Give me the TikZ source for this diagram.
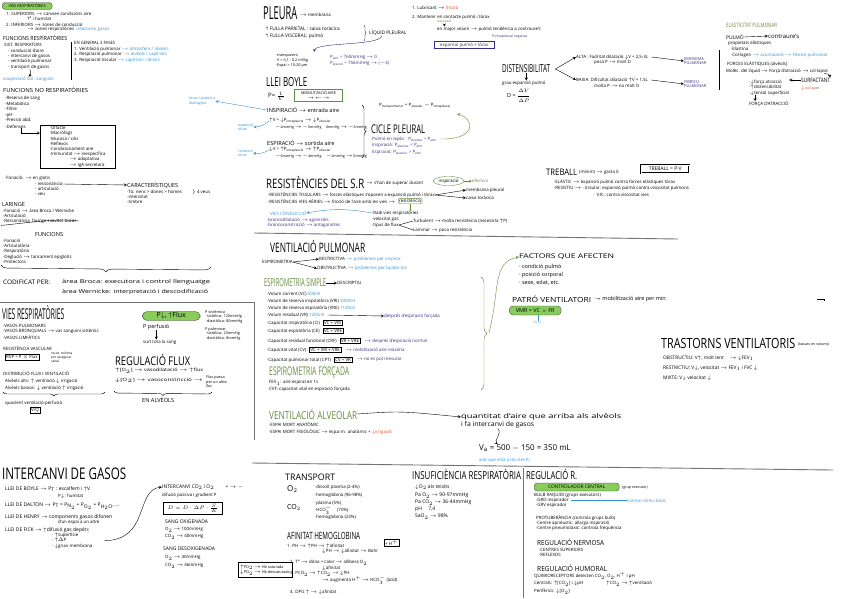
\documentclass[tikz,border=0pt]{standalone}
\usepackage{amsmath}
\usepackage{amssymb}
\usepackage{fontspec}
\setmainfont{Open Sans}
\usetikzlibrary{positioning,arrows,shapes.geometric,decorations.pathreplacing,calc}
\definecolor{inkgreen}{RGB}{104,140,62}
\definecolor{pillgreen}{RGB}{136,204,92}
\definecolor{inkblue}{RGB}{52,146,214}
\definecolor{inkpurple}{RGB}{58,42,128}
\definecolor{inkred}{RGB}{228,64,44}
\newcommand{\fs}[1]{\fontsize{#1}{#1}\selectfont}
\newcommand{\hw}[2]{\resizebox{#1pt}{\height}{#2}}
\newcommand{\tto}{\ensuremath{\rightarrow}}
\newcommand{\upa}{\ensuremath{\uparrow}}
\newcommand{\dna}{\ensuremath{\downarrow}}

\begin{document}
\begin{tikzpicture}[x=1pt, y=-1pt]
\tikzstyle{txt} = [anchor=west, inner sep=0pt, align=left, font=\fontsize{4.4}{5.2}\selectfont]
\tikzstyle{mid} = [txt, font=\fs{5.6}]
\tikzstyle{ttl} = [anchor=west, inner sep=0pt, font=\fs{15}]
\tikzstyle{pill} = [anchor=west, rounded corners=3pt, fill=pillgreen, draw=black!70, inner sep=1.2pt, font=\fs{5}]
\tikzstyle{sbox} = [anchor=west, draw=black, inner sep=1pt, align=left, font=\fontsize{4.4}{5.2}\selectfont]
\tikzstyle{arrow} = [->, >=stealth, thin]
\tikzstyle{rule} = [black!55, line width=0.9pt]
\tikzstyle{brc} = [decorate, decoration={brace, amplitude=4pt}, thin]

\useasboundingbox (0,0) rectangle (848,598);
\fill[white] (0,0) rectangle (848,598);

% separadors
\coordinate (h1a) at (0,302); \coordinate (h1b) at (254,302); \coordinate (v1b) at (254,440);
\coordinate (h2a) at (254,233); \coordinate (h2b) at (678,239);
\coordinate (h3a) at (252,463); \coordinate (h3b) at (833,470);
\coordinate (v3a) at (523,468); \coordinate (v3b) at (523,598);
\draw[rule] (h1a) -- (h1b) -- (v1b);
\draw[rule] (h2a) -- (h2b);
\draw[rule] (h3a) -- (h3b);
\draw[rule] (v3a) -- (v3b);

% vies respiratories
\node (vrp) [pill, font=\fs{4}, minimum width=50pt, minimum height=7pt] at (2,6) {VIES RESPIRATÒRIES};
\node (sup) [txt] at (6,13.5) {1. SUPERIORS \tto{} canvien condicions aire};
\node (supb) [txt] at (27,19) {T$^{\text{a}}$ i humitat};
\node (inf) [txt] at (6,24.5) {2. INFERIORS \tto{} zones de conducció};
\node (infb) [txt] at (27,29.5) {\tto{} zones respiratòries \ \textcolor{inkblue}{intercanvi gasos}};

\node (funcr) [mid] at (3,38) {\hw{64}{FUNCIONS RESPIRATÒRIES}};
\node (sist) [txt] at (4,45) {SIST. RESPIRATORI:};
\node (llista1) [txt, anchor=north west] at (8,49) {- conducció d'aire\\- intercanvi de gasos\\- ventilació pulmonar\\- transport de gasos};
\node (coop) [txt, text=inkblue] at (3,79) {cooperació sist. sanguini};
\draw[arrow] (llista1.south) to[bend left=40] (coop.north);
\draw (71,42) -- (71,80);
\node (gen) [txt] at (74,43) {\hw{41}{EN GENERAL 3 FASES}};
\node (f1) [txt] at (74,49) {1. Ventilació pulmonar \textcolor{inkblue}{\tto{} atmosfera / alvèols}};
\node (f2) [txt] at (74,54.5) {2. Respiració pulmonar \textcolor{inkblue}{\tto{} alvèols / capil·lars}};
\node (f3) [txt] at (74,60) {3. Respiració tissular \textcolor{inkblue}{\tto{} capil·lars / teixits}};

\node (funcnr) [mid] at (3,90) {\hw{85}{FUNCIONS NO RESPIRATÒRIES}};
\node (llista2) [txt, anchor=north west, font=\fontsize{4.4}{5.5}\selectfont] at (5,96) {-Reserva de sang\\-Metabòlica\\-Filtre\\-pH\\-Pressió abd.};
\node (defn) [txt] at (5,126.5) {-Defenses};
\node (def) [sbox, anchor=north west, minimum width=75pt, minimum height=43pt, inner xsep=6pt] at (40,125) {·Olfacte\\·Macròfags\\·Mucosa / cilis\\·Reflexos\\·Condicionament aire\\·Immunitat \tto{} inespecífica\\\hspace{20pt}\tto{} adaptativa\\\hspace{20pt}\tto{} IgA secretora};
\draw[arrow] ([xshift=6pt]defn.south) |- ([yshift=-8pt]def.north west);
\node (diaf) [txt, text=inkblue, anchor=north west, font=\fontsize{3.6}{4.3}\selectfont] at (189,97) {tòrax i alvèols a\\diafragma};

% fonacio i laringe
\node (fon) [txt] at (5,178) {·Fonació: \tto{} en glotis};
\node (fon1) [txt] at (35,184) {- ressonància};
\node (fon2) [txt] at (35,189) {- articulació};
\node (fon3) [txt] at (35,194) {- veu};
\node (car) [mid] at (127,185) {CARACTERÍSTIQUES};
\draw[arrow] (fon1.east) -- (car.west);
\node (car1) [txt] at (127,192) {·To: nens > dones > homes};
\node (veus) [txt] at (192,192) {$\}$ 4 veus};
\node (car2) [txt] at (127,197) {-intensitat};
\node (car3) [txt] at (127,202) {-timbre};

\node (lar) [mid] at (2,204.5) {LARINGE};
\node (lar1) [txt] at (3,210.5) {·Fonació \tto{} àrea Broca / Wernicke};
\node (lar2) [txt] at (3,215.5) {·Articulació};
\node (lar3) [txt] at (3,221) {·Ressonància \ faringe i cavitat bucal};
\draw ([xshift=-2pt, yshift=-2pt]lar3.south west) .. controls +(30,-3) and +(-20,-3) .. ([xshift=3pt]lar3.east);
\node (funcs) [mid] at (35,234) {FUNCIONS};
\node (llista3) [txt, anchor=north west] at (3,239) {·Fonació\\·Articulatòria\\·Respiratòria\\·Deglució \tto{} tancament epiglotis\\·Protectora};
\draw[brc, decoration={brace, mirror, amplitude=6pt}] (1,265) -- (211,267);
\node (cod) [txt, font=\fs{6.2}] at (3,282) {\hw{47}{CODIFICAT PER:}};
\node (cod1) [txt, font=\fs{5.4}] at (62,282) {\hw{148}{àrea Broca: executora i control llenguatge}};
\node (cod2) [txt, font=\fs{5.4}] at (62,292) {\hw{146}{àrea Wernicke: interpretació i descodificació}};

% vies respiratories: circulacio
\node (vr2) [ttl, font=\fs{15}] at (2,313) {\hw{62}{VIES RESPIRATÒRIES}};
\node (vas1) [txt] at (3,326) {·VASOS PULMONARS};
\node (vas2) [txt] at (3,331.5) {·VASOS BRONQUIALS \tto{} vas sanguini sistèmic};
\node (vas3) [txt] at (3,337) {·VASOS LIMFÀTICS};
\node (resv) [txt] at (3,348) {RESISTÈNCIA VASCULAR};
\node (rvp) [sbox] at (5,357) {RVP = P $\times$ Flux};
\node (rvpn) [txt, font=\fontsize{3.2}{3.8}\selectfont] at (51,357) {resist. mínima\\per assegurar\\cabal};
\node (dist) [txt] at (3,373) {DISTRIBUCIÓ FLUX I VENTILACIÓ};
\node (alts) [txt] at (5,381) {Alvèols alts: \upa{} ventilació \dna{} irrigació};
\node (baix) [txt] at (5,388) {Alvèols baixos: \dna{} ventilació \upa{} irrigació};
\draw[brc, decoration={brace, mirror, amplitude=4pt}] (3,392) -- (105,392);
\node (quoc) [txt] at (5,403) {quocient ventilació-perfusió};
\node (vq) [sbox] at (30,410) {V/Q};

\node (pflux) [pill, font=\fs{7}, rounded corners=5pt, minimum width=58pt, minimum height=9pt, align=center] at (142,316) {P\dna, \upa Flux};
\node (pperf) [txt, font=\fs{5.5}] at (143,327) {P perfusió};
\node (surt) [txt] at (143,342) {surt tota la sang};
\draw[arrow] (pperf.south) -- (pperf.south |- surt.north);
\node (psis) [txt, anchor=north west, font=\fontsize{3.8}{4.6}\selectfont] at (205,310) {P sistèmica\\\ ·sistòlica: 120mmHg\\\ ·diastòlica: 80mmHg};
\node (ppul) [txt, anchor=north west, font=\fontsize{3.8}{4.6}\selectfont] at (205,327) {P pulmonar\\\ ·sistòlica: 25mmHg\\\ ·diastòlica: 8mmHg};

\node (regf) [ttl, font=\fs{12}] at (115,359.5) {\hw{75}{REGULACIÓ FLUX}};
\node (rf1) [txt] at (115,371) {\hw{88}{\upa[O$_2$] \tto{} vasodilatació \tto{} \upa flux}};
\node (rf2) [txt] at (115,380.5) {\hw{88}{\dna[O$_2$] \tto{} vasoconstricció \tto{}}};
\node (rf3) [txt, font=\fontsize{3.8}{4.5}\selectfont] at (206,382) {Flux passa\\per un altre\\lloc};
\draw[brc, decoration={brace, mirror, amplitude=4pt}] (114,391) -- (212,392);
\node (alv) [mid] at (142,400) {EN ALVÈOLS};

% pleura
\node (pleu) [ttl, font=\fs{18}] at (263,13) {\hw{34}{PLEURA}};
\node (memb) [txt] at (300,15) {\tto{} membrana};
\node (fp) [txt, font=\fs{4.8}] at (265,29) {$\Lsh$ FULLA PARIETAL : caixa toràcica};
\node (fv) [txt, font=\fs{4.8}] at (265,36) {$\Lsh$ FULLA VISCERAL: pulmó};
\draw[brc, decoration={brace, amplitude=2pt}] (364,25) -- (364,41);
\node (liq) [txt, font=\fs{4.8}] at (369,33) {LÍQUID PLEURAL};
\coordinate (pa) at (314,52);
\draw[arrow, inkpurple] ([xshift=-6pt]liq.south) .. controls (380,46) and (316,42) .. (pa);
\node (plst) [txt, anchor=north west, font=\fontsize{3.8}{4.8}\selectfont] at (276,54) {·transparent\\·V = 0,1 - 0,2 ml/kg\\·Espai = 10-20 µm};
\node (patm) [txt, text=inkpurple] at (330,57) {P$_{\text{atm}}$ = 760mmHg \tto{} 0};
\node (ppl) [txt, text=inkpurple] at (330,63.5) {P$_{\text{pleural}}$ = 756mmHg \tto{} ($-$4)};

\node (boyle) [ttl, font=\fs{12.5}] at (266,82) {\hw{41}{LLEI BOYLE}};
\node (pv) [txt, font=\fs{6}] at (268,96) {P= $\frac{1}{V}$};
\node (mob) [draw=inkgreen, line width=0.9pt, inner sep=1.5pt, align=center, font=\fontsize{3.8}{4.8}\selectfont, anchor=west, minimum width=48pt, minimum height=12pt] at (294,95) {MOBILITZACIÓ AIRE\\$\rightarrow\ \leftarrow\ \rightarrow$};

\node (insp) [txt, font=\fs{5.6}] at (267,110) {INSPIRACIÓ \tto{} entrada aire};
\draw[arrow, inkblue] (insp.west) -- (diaf.east);
\node (insp1) [txt] at (269,121) {\upa V = \dna P$_{\text{intrapleural}}$ \tto{} \dna P$_{\text{alveolar}}$};
\node (insp2) [txt, font=\fs{3.6}] at (275,127) {$-$4mmHg \tto{} $-$6mmHg \quad 0mmHg \tto{} $-$2mmHg};
\node (expt) [txt, text=inkblue, font=\fontsize{3.6}{4.2}\selectfont] at (238,127) {expansió\\tòrax};
\draw[arrow, inkblue] (insp1.west) to[bend left=20] (expt.east);
\node (esp) [txt, font=\fs{5.6}] at (267,143) {ESPIRACIÓ \tto{} sortida aire};
\node (esp1) [txt] at (269,150) {\dna V = \upa P$_{\text{intrapleural}}$ \tto{} \upa P$_{\text{alveolar}}$};
\node (esp2) [txt, font=\fs{3.6}] at (275,156) {$-$6mmHg \tto{} $-$4mmHg \quad $-$2mmHg \tto{} 0mmHg};
\node (retr) [txt, text=inkblue, font=\fontsize{3.6}{4.2}\selectfont] at (238,153) {retracció\\tòrax};
\draw[arrow, inkblue] (esp1.west) to[bend left=20] (retr.east);

\draw[brc, decoration={brace, amplitude=4pt}] (362,105) -- (362,158);
\node (ptp) [txt] at (379,106) {P$_{\text{transpulmonar}}$ = P$_{\text{alveolar}}$ $-$ P$_{\text{intrapleural}}$};
\node (cicle) [ttl, font=\fs{12}] at (371,129) {\hw{54}{CICLE PLEURAL}};
\node (cic1) [txt, text=inkpurple] at (372,139) {Pulmó en repòs : P$_{\text{alveolar}}$ = P$_{\text{atm}}$};
\node (cic2) [txt, text=inkpurple] at (372,145.5) {Inspiració: P$_{\text{alveolar}}$ < P$_{\text{atm}}$};
\node (cic3) [txt, text=inkpurple] at (372,152) {Espiració: P$_{\text{alveolar}}$ > P$_{\text{atm}}$};
\coordinate (ga) at (457,114);
\draw[arrow, inkgreen] ([xshift=3pt]cic1.east) .. controls (478,140) and (474,118) .. (ga);

% resistencies
\node (res) [ttl, font=\fs{13}] at (266,182.5) {\hw{98}{RESISTÈNCIES DEL S.R}};
\node (res0) [txt] at (366,183) {\tto{} s'han de superar durant};
\node (insc) [txt, draw=inkgreen, ellipse, inner sep=1pt, anchor=west] at (433,181) {inspiració};
\node (efec) [txt, text=inkgreen] at (472,181) {efectiva};
\draw[arrow, inkgreen] (insc.east) -- (efec.west);
\node (rt) [txt] at (268,195) {·RESISTÈNCIES TISSULARS \tto{} forces elàstiques s'oposen a expansió pulmó i tòrax};
\node (rt1) [txt] at (466,190) {membrana pleural};
\node (rt2) [txt] at (466,198) {caixa toràcica};
\draw[arrow] (rt.east) -- (rt1.west);
\draw[arrow] (rt.east) -- (rt2.west);
\node (rva) [txt] at (268,201) {·RESISTÈNCIES VIES AÈRIES \tto{} fricció de l'aire amb les vies \tto{}};
\node (rvab) [txt, draw=inkgreen, rounded corners=2pt, inner sep=1pt] at (398,201) {resistència};
\node (rr) [txt] at (372,213) {·Radi vies respiratòries};
\draw[inkgreen] (rvab.south) -- (rvab.south |- rr.north);
\node (vel) [txt] at (372,219) {·velocitat gas};
\node (tip) [txt] at (372,225) {·tipus de flux};
\node (turb) [txt] at (413,221) {Turbulent \tto{} molta resistència (necessita \upa P)};
\node (lam) [txt] at (413,230) {Laminar \tto{} poca resistència};
\draw (tip.east) -- (turb.west);
\draw (tip.east) -- (lam.west);
\node (vc) [txt, text=inkblue] at (269,213) {·VIES CONDUCCIÓ};
\draw[arrow, inkblue] (rr.west) to[bend right=10] (vc.east);
\node (bd) [txt, text=inkpurple] at (267,220) {·broncodilatació \tto{} agonistes};
\node (bc) [txt, text=inkpurple] at (267,225.5) {·broncoconstricció \tto{} antagonistes};

% funcions liquid pleural
\node (lub) [txt] at (412,8) {1. Lubricant \tto{} \textcolor{inkred}{fricció}};
\node (mant) [txt] at (412,17) {2. Mantenir en contacte pulmó i tòrax};
\node (espg) [txt, text=inkgreen, font=\fs{3.4}] at (437,22) {espiració};
\node (vol) [txt] at (437,29) {en major volum \tto{} pulmó tendència a contraure's};
\draw[arrow] (espg.south) -- (espg.south |- vol.north);
\node (pint) [txt, text=inkpurple, font=\fs{3.4}] at (492,37) {P.intrapleural negativa};
\node (expb) [sbox, draw=inkpurple, line width=0.7pt, text=inkpurple, minimum width=60pt, minimum height=7pt] at (434,45) {expansió pulmó + tòrax};

% distensibilitat
\node (dist2) [ttl, font=\fs{11}] at (502,69) {\hw{48}{DISTENSIBILITAT}};
\node (grau) [txt] at (502,83) {grau expansió pulmó};
\draw[arrow] (dist2.south) -- (dist2.south |- grau.north);
\node (dform) [txt, font=\fs{5.5}] at (507,96) {D = $\dfrac{\Delta V}{\Delta P}$};
\node (alta) [txt] at (576,57) {ALTA : Facilitat dilatació \dna V = 2,5-3L};
\node (alta2) [txt] at (594,62) {poca P \tto{} molt D};
\node (baixa) [txt] at (576,80) {BAIXA: Dificultat dilatació \upa V = 1,5L};
\node (baixa2) [txt] at (594,86) {molta P \tto{} no molt D};
\draw[arrow] ([xshift=5pt]dist2.east) -- (alta.west);
\draw[arrow] ([xshift=5pt]dist2.east) -- (baixa.west);
\node (emfi) [txt, text=inkpurple, font=\fontsize{4}{4.8}\selectfont] at (684,61) {EMFISEMA\\PULMONAR};
\node (fib) [txt, text=inkpurple, font=\fontsize{4}{4.8}\selectfont] at (684,84) {FIBROSI\\PULMONAR};
\draw[arrow] ([xshift=3pt]alta.east) -- (emfi.west);
\draw[arrow] ([xshift=3pt]baixa.east) -- (fib.west);
\draw (719,50) -- (719,90);

% elasticitat
\node (ela) [txt, text=inkgreen, font=\fs{6}] at (726,25) {\hw{51}{ELASTICITAT PULMONAR}};
\node (pulmo) [txt, font=\fs{5}] at (726,37) {PULMÓ};
\node (contr) [txt, font=\fs{6}] at (768,36) {contraure's};
\draw[arrow] (pulmo.east) -- (contr.west);
\node (prop) [txt] at (728,43) {propietats elàstiques};
\node (elast) [txt] at (731,49) {·Elastina};
\node (col) [txt] at (731,55) {·Col·lagen \textcolor{inkblue}{\tto{} acumulació \tto{} Fibrosi pulmonar}};
\node (fel) [txt] at (727,64) {FORCES ELÀSTIQUES (alvèols)};
\node (mol) [txt] at (726,71) {Molèc. del líquid \tto{} Força d'atracció \tto{} col·lapse};
\node (surf) [txt, font=\fs{6}] at (801,80) {\hw{29}{SURFACTANT}};
\node (surfr) [txt, text=inkred, font=\fs{3.6}] at (801,88) {\dna col·lapse};
\draw[arrow] ([xshift=-4pt]mol.south east) to[bend left=40] (surf.north east);
\node (ft) [txt, anchor=north west] at (749,80) {·\dna força atracció\\·\upa distensibilitat\\·\dna tensió superficial};
\draw[arrow] (surf.west) -- (surf.west -| ft.east);
\node (fa) [txt] at (749,104) {FORÇA D'ATRACCIÓ};
\draw[arrow] ([xshift=-14pt]ft.south) -- ([xshift=-14pt]ft.south |- fa.north);

% treball
\node (treb) [ttl, font=\fs{9}] at (546,172) {\hw{31}{TREBALL}};
\node (treb1) [txt] at (579,172) {(mínim) \tto{} gasto E};
\node (trebb) [sbox, font=\fs{5}, minimum width=48pt, minimum height=8pt, align=center, double, double distance=0.7pt] at (641,169) {TREBALL = P·V};
\node (el) [txt] at (554,182) {·ELÀSTIC \tto{} expansió pulmó contra forces elàstiques tòrax};
\node (rs) [txt] at (554,188) {·RESISTIU \tto{} · tissular: expansió pulmó contra viscositat pulmons};
\node (rs2) [txt] at (594,195) {· V.R.: contra viscositat vies};

% ventilacio pulmonar
\node (vp) [ttl, font=\fs{13}] at (270,246.5) {\hw{95}{VENTILACIÓ PULMONAR}};
\node (espi) [txt] at (262,262) {ESPIROMETRIA};
\node (restr) [txt] at (319,259) {RESTRICTIVA \textcolor{inkblue}{\tto{} problemes per inspirar}};
\node (obst) [txt] at (317,268.5) {OBSTRUCTIVA \textcolor{inkblue}{\tto{} problemes per buidar-los}};
\draw[arrow] (espi.east) -- (restr.west);
\draw[arrow] (espi.east) -- (obst.west);
\node (es) [ttl, font=\fs{11}, text=inkgreen] at (264,283) {\hw{62}{ESPIROMETRIA SIMPLE}};
\node (desc) [txt] at (337,283) {DESCRIPTIU};
\draw[arrow] (es.east) -- (desc.west);
\node (v1) [txt] at (267,294) {·Volum corrent (VC) \textcolor{inkblue}{500ml}};
\node (v2) [txt] at (267,301) {·Volum de reserva inspiratòria (VRI) \textcolor{inkblue}{3000ml}};
\node (v3) [txt] at (267,308) {·Volum de reserva espiratòria (VRE) \textcolor{inkblue}{1100ml}};
\node (v4) [txt] at (267,315) {·Volum residual (VR) \textcolor{inkblue}{1200ml}};
\node (v4d) [txt, text=inkpurple] at (384,316) {després d'espiració forçada};
\draw[arrow] ([xshift=3pt]v4.east) -- (v4d.west);
\node (c1) [txt] at (267,323) {·Capacitat inspiratòria (CI)};
\node (c1b) [sbox, right=3pt of c1] {VC + VRI};
\node (c2) [txt] at (267,331) {·Capacitat espiratòria (CE)};
\node (c2b) [sbox, right=3pt of c2] {VC + VRE};
\node (c3) [txt] at (267,341) {·Capacitat residual funcional (CRF)};
\node (c3b) [sbox, right=3pt of c3] {VR + VRE};
\node (c3d) [txt, text=inkpurple, right=4pt of c3b] {\tto{} després d'espiració normal};
\node (c4) [txt] at (267,350) {·Capacitat vital (CV)};
\node (c4b) [sbox, right=3pt of c4] {VC + VRI + VRE};
\node (c4d) [txt, text=inkpurple, right=4pt of c4b] {\tto{} mobilització aire màxima};
\node (c5) [txt] at (267,360) {·Capacitat pulmonar total (CPT)};
\node (c5b) [sbox, right=3pt of c5] {CV + VR};
\node (c5d) [txt, text=inkpurple, right=4pt of c5b] {\tto{} no es pot mesurar};
\node (ef) [ttl, font=\fs{12}, text=inkgreen] at (269,373) {\hw{80}{ESPIROMETRIA FORÇADA}};
\node (fev) [txt] at (269,383) {FEV$_1$: aire espirat en 1s};
\node (cvf) [txt] at (269,389.5) {CVF: capacitat vital en espiració forçada};

\draw[brc, inkgreen, decoration={brace, amplitude=6pt}] (481,277) -- (481,390);
\node (fact) [txt, font=\fs{6.5}] at (519,257) {\hw{95}{FACTORS QUE AFECTEN}};
\coordinate (brtip) at (489,333);
\draw[arrow, inkgreen] (brtip) .. controls (500,290) and (492,262) .. (fact.west);
\node (f1x) [txt, font=\fs{5.5}] at (519,267) {· condició pulmó};
\node (f2x) [txt, font=\fs{5.5}] at (519,275) {· posició corporal};
\node (f3x) [txt, font=\fs{5.5}] at (519,283) {· sexe, edat, etc.};
\node (pat1) [txt, font=\fs{7}] at (512,299) {\hw{79}{PATRÓ VENTILATORI}};
\node (pat2) [txt, font=\fs{5.5}] at (594,299) {\tto{} mobilització aire per min};
\node (vmr) [pill, font=\fs{5.5}, rounded corners=4pt, minimum width=52pt, minimum height=9pt] at (509,310.5) {VMR = VC $\times$ FR};
\node (fr) [txt, text=inkblue, font=\fs{3}] at (533,322) {10-12};
\draw[inkblue] ([xshift=3pt]vmr.south) -- ([xshift=3pt]vmr.south |- fr.north);
\draw[thin] (817,299) -- (824,299) -- (824,301);

% trastorns
\node (tras) [ttl, font=\fs{14}] at (661,343) {\hw{134}{TRASTORNS VENTILATORIS}};
\node (trasb) [txt, font=\fs{3.6}] at (798,344) {(basats en volums)};
\node (ob) [txt, font=\fs{4.8}] at (663,358) {OBSTRUCTIU: V\upa, molt lent \quad\tto{} \dna FEV$_1$};
\node (re) [txt, font=\fs{4.8}] at (663,368) {RESTRICTIU: V\dna, velocitat \tto{} FEV$_1$ i FVC \dna};
\node (mx) [txt, font=\fs{4.8}] at (663,378) {MIXTE: V\dna{} velocitat \dna};

% ventilacio alveolar
\node (va) [ttl, font=\fs{11}, text=inkgreen] at (269,414) {\hw{88}{VENTILACIÓ ALVEOLAR}};
\node (q) [txt, font=\fs{6.5}] at (461,417) {\hw{160}{quantitat d'aire que arriba als alvèols}};
\node (q2) [txt, font=\fs{6.5}] at (461,425) {\hw{73}{i fa intercanvi de gasos}};
\draw[arrow] (va.east) .. controls (400,411) .. (q.west);
\node (vaf) [txt, font=\fs{8}] at (479,448) {V$_{\text{a}}$ = 500 $-$ 150 = 350 mL};
\draw[arrow] (q2.south) .. controls +(5,5) and +(-4,-4) .. (q2.south |- vaf.north);
\node (vaa) [txt, text=inkblue] at (479,460) {aire que està a les vies R.};
\node (ema) [txt] at (269,424) {·ESPAI MORT ANATÒMIC};
\node (emfis) [txt] at (269,432) {·ESPAI MORT FISIOLÒGIC \tto{} espai m. anatòmic + \textcolor{inkred}{\dna irrigació}};

% intercanvi de gasos
\node (ig) [ttl, font=\fs{16}] at (2,474) {\hw{124}{INTERCANVI DE GASOS}};
\node (lb) [txt, font=\fs{5}] at (5,489) {LLEI DE BOYLE \tto{} P$_{\text{T}}$ : escalfem i \upa V};
\node (lb2) [txt] at (58,496) {P\dna : humitat};
\node (ld) [txt, font=\fs{5}] at (5,506) {LLEI DE DALTON \tto{} P$_{\text{T}}$ = P$_{\text{N}_2}$ + P$_{\text{O}_2}$ + P$_{\text{H}_2\text{O}}$, ...};
\node (lh) [txt, font=\fs{5}] at (5,517) {LLEI DE HENRY \tto{} components gasos difonen};
\node (lh2) [txt] at (58,522.5) {d'un espai a un altre};
\node (lf) [txt, font=\fs{5}] at (5,530) {LLEI DE FICK \tto{} \upa difusió gas depèn:};
\node (lf2) [txt, anchor=north west] at (52,533) {· \upa superfície\\· \upa $\Delta$P\\· \dna gruix membrana};
\node (ic) [txt, font=\fs{5}] at (162,487) {INTERCANVI CO$_2$ i O$_2$ \qquad + \tto{} $-$};
\draw[arrow] ([xshift=12pt]lf2.east) .. controls (150,540) and (135,490) .. (ic.west);
\node (dp) [txt] at (162,495) {difusió passiva i gradient P};
\node (dbox) [sbox, font=\fs{5.5}, minimum width=59pt, minimum height=12pt, align=center] at (163,508) {$D = D\cdot\Delta P\cdot\frac{S}{E}$};
\node (so) [txt, font=\fs{5}] at (165,522) {SANG OXIGENADA};
\node (so1) [txt] at (165,530) {O$_2$ \tto{} 100mmHg};
\node (so2) [txt] at (165,537) {CO$_2$ \tto{} 40mmHg};
\node (sd) [txt, font=\fs{5}] at (163,549) {SANG DESOXIGENADA};
\node (sd1) [txt] at (165,558) {O$_2$ \tto{} 40mmHg};
\node (sd2) [txt] at (165,566) {CO$_2$ \tto{} 46mmHg};
\node (hb) [sbox, inner sep=2pt, font=\fontsize{3.8}{4.8}\selectfont] at (238,570) {\upa PO$_2$ \tto{} Hb saturada\\\dna PO$_2$ \tto{} Hb dessaturada};

% transport
\node (tr) [ttl, font=\fs{9}] at (285,477) {\hw{50}{TRANSPORT}};
\node (o2) [txt, font=\fs{8}] at (287,489) {O$_2$};
\node (o2a) [txt] at (315,487) {·dissolt plasma (2-4\%)};
\node (o2b) [txt] at (315,495) {·hemoglobina (96-98\%)};
\node (co2) [txt, font=\fs{7}] at (287,507) {CO$_2$};
\node (co2a) [txt] at (315,503) {·plasma (5\%)};
\node (co2b) [txt] at (315,510) {·HCO$_3^-$ \quad (70\%)};
\node (co2c) [txt] at (315,517) {·hemoglobina (23\%)};
\node (af) [ttl, font=\fs{10}] at (287,536) {\hw{73}{AFINITAT HEMOGLOBINA}};
\node (ph) [txt] at (287,546) {1. PH \tto{} \upa PH \tto{} \upa afinitat};
\node (ph2) [txt] at (322,551.5) {\dna PH \tto{} \dna afinitat \tto{} Bohr};
\node (hb2) [sbox] at (384,543) {+ H$^+$};
\node (ta) [txt] at (290,562.5) {2. T$^{\text{a}}$ \tto{} dóna + calor \tto{} allibera O$_2$};
\node (ta2) [txt] at (322,568.5) {\dna afinitat};
\node (pco) [txt] at (290,574) {3. PCO$_2$ \tto{} \upa CO$_2$ \tto{} \dna PH};
\node (pco2) [txt] at (322,580) {\tto{} augmenta H$^+$ \tto{} HCO$_3^-$ (àcid)};
\node (dpg) [txt] at (290,592) {4. DPG \upa{} \tto{} \dna afinitat};

% insuficiencia
\node (ins) [ttl, font=\fs{11}] at (412,474.5) {\hw{109}{INSUFICIÈNCIA RESPIRATÒRIA}};
\node (ins1) [txt, font=\fs{5}] at (415,487) {\dna O$_2$ als teixits};
\node (ins2) [txt, font=\fs{5}] at (415,495.5) {Pa O$_2$ \tto{} 90-97mmHg};
\node (ins3) [txt, font=\fs{5}] at (415,502.5) {Pa CO$_2$ \tto{} 36-44mmHg};
\node (ins4) [txt, font=\fs{5}] at (415,509.5) {pH \quad 7,4};
\node (ins5) [txt, font=\fs{5}] at (415,516.5) {SaO$_2$ \tto{} 98\%};

% regulacio
\node (reg) [ttl, font=\fs{11}] at (526,474) {\hw{51}{REGULACIÓ R.}};
\node (cc) [pill, font=\fs{4.8}, minimum width=85pt, minimum height=8pt] at (534,487) {CONTROLADOR CENTRAL};
\node (cc2) [txt, font=\fs{3.6}] at (622,488) {(grup executor)};
\node (bulb) [txt] at (534,495.5) {BULB RAQUIDI (grups executors)};
\node (grd) [txt] at (536,500.5) {·GRD inspirador};
\node (ctrl) [txt, text=inkblue] at (627,500.5) {control rítmic bàsic};
\draw[inkblue] ([xshift=2pt]grd.east) -- (ctrl.west);
\node (grv) [txt] at (536,505.5) {·GRV espirador};
\node (prot) [txt] at (536,518) {PROTUBERÀNCIA (controla grups bulb)};
\node (ca) [txt] at (536,523) {·Centre apnèustic: allarga inspiració};
\node (cp) [txt] at (536,528) {·Centre pneumotàxic: controla freqüència};
\node (rn) [txt, font=\fs{7}] at (537,542) {\hw{67}{REGULACIÓ NERVIOSA}};
\node (cs) [txt] at (539,550) {·CENTRES SUPERIORS};
\node (rfx) [txt] at (539,555) {·REFLEXOS};
\node (rh) [txt, font=\fs{7}] at (537,568) {\hw{70}{REGULACIÓ HUMORAL}};
\node (qr) [txt] at (534,576) {QUIMIORECEPTORS detecten CO$_2$, O$_2$, H$^+$ i pH};
\node (cen) [txt] at (534,584) {Centrals: \upa[CO$_2$] i \dna pH};
\node (cen2) [txt] at (606,584) {\upa CO$_2$ \tto{} \upa ventilació};
\node (per) [txt] at (534,592) {Perifèrics: \dna[O$_2$]};
\end{tikzpicture}
\end{document}
